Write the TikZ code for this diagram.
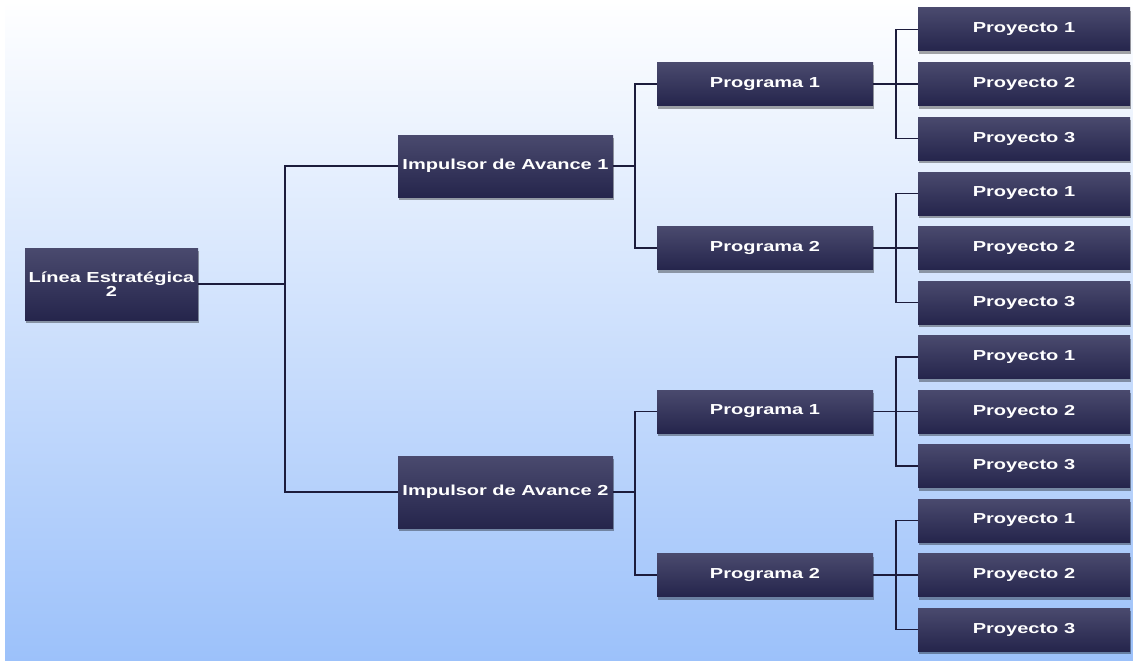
\documentclass[tikz,border=0pt]{standalone}
\usepackage{fontspec}
\newfontfamily\bxf{Liberation Sans}[FakeStretch=1.38]
\usetikzlibrary{shadows,positioning}
\definecolor{boxtop}{HTML}{4A4A6E}
\definecolor{boxbot}{HTML}{25254C}
\definecolor{linec}{HTML}{1C1C3C}
\definecolor{bgmid}{HTML}{E2ECFB}
\definecolor{bgbot}{HTML}{9CC1FA}
\tikzset{
  box/.style={rectangle, inner sep=0pt, top color=boxtop, bottom color=boxbot,
    draw=none, text=white, font=\bxf\bfseries\fontsize{14.5}{14.5}\selectfont,
    align=center,
    drop shadow={shadow xshift=1pt, shadow yshift=-3pt, opacity=0.35, fill=black}},
  lvl0/.style={box, minimum width=173pt, minimum height=72pt},
  lvl1/.style={box, minimum width=215pt},
  lvl2/.style={box, minimum width=216pt, minimum height=43pt},
  lvl3/.style={box, minimum width=212pt, minimum height=43pt},
  conn/.style={draw=linec, line width=1.6pt}
}
\begin{document}
\begin{tikzpicture}[x=1pt,y=-1pt]
\useasboundingbox (0,0) rectangle (1133,661);
\fill[white] (0,0) rectangle (1133,661);
\shade[top color=white, middle color=bgmid, bottom color=bgbot] (5,0) rectangle (1133,661);

\node[lvl0] (L) at (111.5,284) {Línea Estratégica\\2};
\node[lvl1, minimum height=62pt] (I1) at (505.5,166) {Impulsor de Avance 1};
\node[lvl1, minimum height=72pt] (I2) at (505.5,492) {Impulsor de Avance 2};

\node[lvl2] (P11) at (765,84) {Programa 1};
\node[lvl2] (P12) at (765,248) {Programa 2};
\node[lvl2] (P21) at (765,411.5) {Programa 1};
\node[lvl2] (P22) at (765,575) {Programa 2};

\foreach \p/\y in {P11/84, P12/248, P21/411.5, P22/575}{
  \node[lvl3] (\p a) at (1024,\y-54.5) {Proyecto 1};
  \node[lvl3] (\p b) at (1024,\y) {Proyecto 2};
  \node[lvl3] (\p c) at (1024,\y+54.5) {Proyecto 3};
}

% connectors level 0 -> 1
\coordinate (J0) at (285,284);
\draw[conn] (L.east) -- (J0);
\draw[conn] (I1.west) -| (J0) |- (I2.west);

% level 1 -> 2
\coordinate (J1) at (635,166);
\coordinate (J2) at (635,492);
\draw[conn] (I1.east) -- (J1);
\draw[conn] (P11.west) -| (J1) |- (P12.west);
\draw[conn] (I2.east) -- (J2);
\draw[conn] (P21.west) -| (J2) |- (P22.west);

% level 2 -> 3
\foreach \p in {P11,P12,P21,P22}{
  \coordinate (\p j) at ([xshift=23pt]\p.east);
  \draw[conn] (\p.east) -- (\p b.west);
  \draw[conn] (\p a.west) -| (\p j) |- (\p c.west);
}
\end{tikzpicture}
\end{document}
